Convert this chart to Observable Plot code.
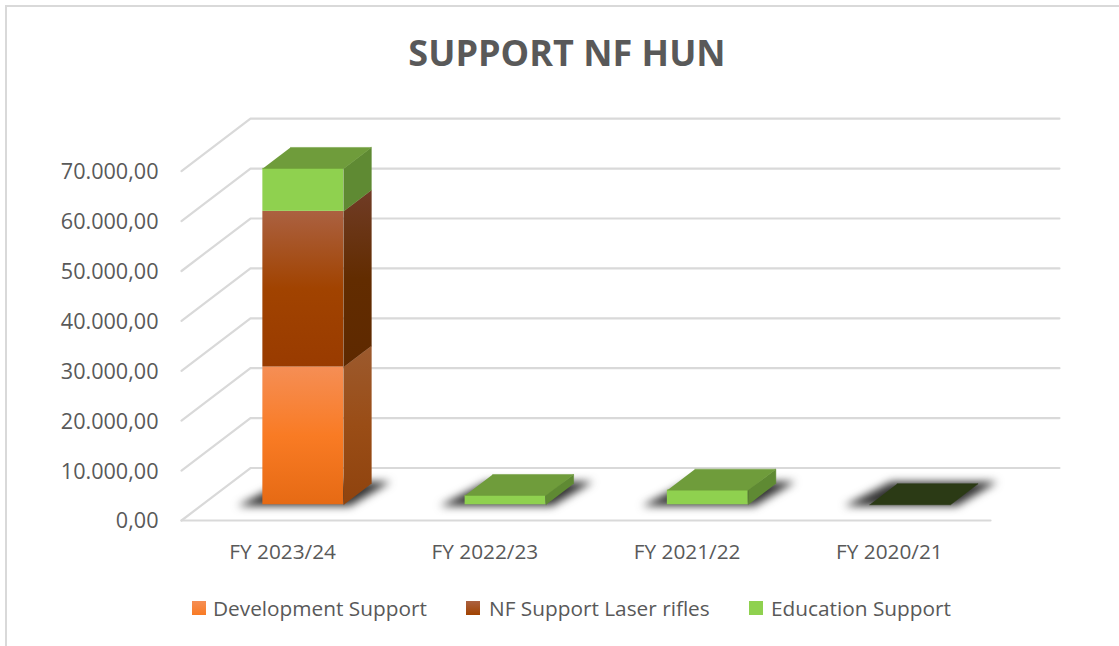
<!DOCTYPE html>
<html>
<head>
<meta charset="utf-8">
<script src="https://cdn.jsdelivr.net/npm/d3@7"></script>
<script src="https://cdn.jsdelivr.net/npm/@observablehq/plot@0.6"></script>
<style>
html,body{margin:0;padding:0;background:#fff;}
#page{position:relative;width:1119px;height:646px;overflow:hidden;font-family:"Open Sans",sans-serif;color:#595959;}
#frame{position:absolute;left:5px;top:5px;right:-5px;bottom:-5px;border:2px solid #d9d9d9;box-sizing:border-box;}
#title{position:relative;height:90px;line-height:106px;margin:0;text-align:center;font-size:36px;font-weight:700;color:#595959;padding-left:15px;box-sizing:border-box;}
#chart{position:relative;height:500px;}
#chart svg{display:block;}
#legend{position:relative;height:56px;font-size:20.8px;line-height:37px;}
#legend span{position:absolute;top:0;white-space:nowrap;}
#legend i{position:absolute;top:11px;width:14px;height:14px;}
</style>
</head>
<body>
<div id="page">
<div id="frame"></div>
<h1 id="title">SUPPORT NF HUN</h1>
<div id="chart"></div>
<div id="legend"></div>
</div>
<script>
const categories = ["FY 2023/24", "FY 2022/23", "FY 2021/22", "FY 2020/21"];
const developmentSupport = [27600, 0, 0, 0];
const laserRifles = [31200, 0, 0, 0];
const educationSupport = [8600, 1860, 2930, 0];
const yTicks = [0, 10000, 20000, 30000, 40000, 50000, 60000, 70000];
const seriesNames = ["Development Support", "NF Support Laser rifles", "Education Support"];

// Oblique projection: "depth" 0..1 runs from the front of the floor to the back wall
const depthX = 0.341, depthY = 10520;
const px = (i, d) => i + d * depthX;
const py = (v, d) => v + d * depthY;
const d0 = 0.3, d1 = 0.7, halfBar = 0.2;

const series = [
  {values: developmentSupport, front: "url(#gDev)", side: "url(#gDevSide)"},
  {values: laserRifles, front: "url(#gNf)", side: "url(#gNfSide)"},
  {values: educationSupport, front: "#8fd14f", side: "#5f8a33"}
];

function poly(id, pts) { return pts.map(([i, v, d]) => ({id, x: px(i, d), y: py(v, d)})); }

const grid = yTicks.flatMap(v => poly("g" + v, [[0, v, 0], [0, v, 1], [categories.length, v, 1]]));
const floorFront = poly("floor", [[0, 0, 0], [categories.length, 0, 0]]);

const fronts = [], sideFaces = series.map(() => []);
const tops = [], emptyTops = [], shadows = [];
categories.forEach((c, k) => {
  const x0 = k + 0.5 - halfBar, x1 = k + 0.5 + halfBar;
  let base = 0;
  series.forEach((s, j) => {
    const v = s.values[k];
    if (v > 0) {
      fronts.push({x1: px(x0, d0), x2: px(x1, d0), y1: py(base, d0), y2: py(base + v, d0), j});
      sideFaces[j].push(...poly(c + j, [[x1, base, d0], [x1, base + v, d0], [x1, base + v, d1], [x1, base, d1]]));
      base += v;
    }
  });
  const topFace = poly(c, [[x0, base, d0], [x1, base, d0], [x1, base, d1], [x0, base, d1]]);
  (base > 0 ? tops : emptyTops).push(...topFace);
  shadows.push(...poly(c, [[x0 - 0.125, -250, d0], [x1 + 0.03, -250, d0], [x1 + 0.095, 400, d1], [x0 - 0.03, 400, d1]]));
});

const fmt = new Intl.NumberFormat("de-DE", {minimumFractionDigits: 2, maximumFractionDigits: 2});
const face = (data, fill) => Plot.line(data, {x: "x", y: "y", z: "id", fill, stroke: fill, strokeWidth: 0.5, curve: "linear"});

const plot = Plot.plot({
  width: 1119, height: 500,
  marginLeft: 181, marginRight: 129, marginTop: 80.7, marginBottom: 70,
  x: {type: "linear", domain: [0, categories.length]},
  y: {type: "linear", domain: [0, 70000]},
  style: {fontFamily: "'Open Sans',sans-serif", fontSize: "20.8px", color: "#595959", background: "transparent", overflow: "visible"},
  marks: [
    Plot.line(grid, {x: "x", y: "y", z: "id", stroke: "#d9d9d9", strokeWidth: 2.2, curve: "linear"}),
    Plot.line(floorFront, {x: "x", y: "y", z: "id", stroke: "#d9d9d9", strokeWidth: 2.2}),
    Plot.line(shadows, {x: "x", y: "y", z: "id", fill: "#333", imageFilter: "blur(4.5px)", curve: "linear"}),
    ...series.map((s, j) => Plot.rect(fronts.filter(f => f.j === j), {x1: "x1", x2: "x2", y1: "y1", y2: "y2", fill: s.front})),
    ...series.map((s, j) => face(sideFaces[j], s.side)),
    face(tops, "#6f9c3b"),
    face(emptyTops, "#2b3a15"),
    Plot.axisY(yTicks, {tickSize: 0, tickPadding: 23, dy: 1, fontSize: 21.6, tickFormat: d => fmt.format(d), label: null, marginLeft: 181}),
    Plot.axisX(categories.map((c, i) => i + 0.5), {tickSize: 0, tickPadding: 24, tickFormat: d => categories[d - 0.5], label: null})
  ]
});
plot.insertAdjacentHTML("afterbegin", `<defs>
<linearGradient id="gDev" x1="0" y1="0" x2="0" y2="1"><stop offset="0" stop-color="#f58e55"/><stop offset="0.5" stop-color="#f97b24"/><stop offset="1" stop-color="#e66a14"/></linearGradient>
<linearGradient id="gNf" x1="0" y1="0" x2="0" y2="1"><stop offset="0" stop-color="#ab6141"/><stop offset="0.5" stop-color="#a14300"/><stop offset="1" stop-color="#993b00"/></linearGradient>
<linearGradient id="gDevSide" x1="0" y1="0" x2="0" y2="1"><stop offset="0" stop-color="#9c5a2e"/><stop offset="0.5" stop-color="#9a4d16"/><stop offset="1" stop-color="#8f430e"/></linearGradient>
<linearGradient id="gNfSide" x1="0" y1="0" x2="0" y2="1"><stop offset="0" stop-color="#703c26"/><stop offset="0.5" stop-color="#622c00"/><stop offset="1" stop-color="#5e2900"/></linearGradient>
</defs>`);
document.getElementById("chart").appendChild(plot);

const legend = document.getElementById("legend");
const swatches = ["linear-gradient(#f58e55,#f97b24)", "linear-gradient(#ab6141,#a14300)", "#8fd14f"];
const swatchLeft = [192, 466, 749], textLeft = [213, 489, 771];
seriesNames.forEach((n, j) => {
  const i = document.createElement("i");
  i.style.left = swatchLeft[j] + "px"; i.style.background = swatches[j];
  const s = document.createElement("span");
  s.style.left = textLeft[j] + "px"; s.textContent = n;
  legend.append(i, s);
});
</script>
</body>
</html>
